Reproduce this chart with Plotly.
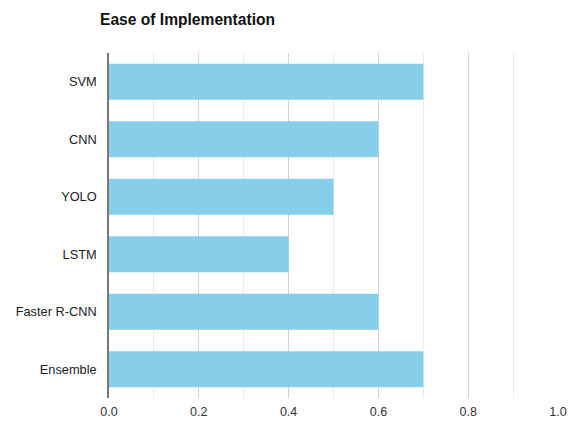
import plotly.graph_objects as go

# Ease-of-implementation scores per model
models = ["SVM", "CNN", "YOLO", "LSTM", "Faster R-CNN", "Ensemble"]
scores = [0.7, 0.6, 0.5, 0.4, 0.6, 0.7]
x_ticks = [0.0, 0.2, 0.4, 0.6, 0.8, 1.0]
x_tick_labels = ["0.0", "0.2", "0.4", "0.6", "0.8", "1.0"]

fig = go.Figure(
    go.Bar(
        x=scores,
        y=models,
        orientation="h",
        marker=dict(color="#87CEEB", line=dict(width=0)),
        width=0.63,
    )
)

fig.update_layout(
    width=571,
    height=421,
    margin=dict(l=109, r=13, t=53, b=23, autoexpand=False),
    paper_bgcolor="white",
    plot_bgcolor="white",
    font=dict(family="Liberation Sans, Arial, sans-serif", size=12, color="#222"),
    title=dict(
        text="<b>Ease of Implementation</b>",
        x=100 / 571,
        xanchor="left",
        y=1 - 20 / 421,
        yanchor="middle",
        font=dict(size=15.6, color="#111"),
    ),
    showlegend=False,
)

fig.update_xaxes(
    range=[0, 1.0],
    tickvals=x_ticks,
    ticktext=x_tick_labels,
    showgrid=True,
    gridcolor="#d4d4d4",
    gridwidth=1,
    minor=dict(dtick=0.1, showgrid=True, gridcolor="#ececec", gridwidth=1),
    zeroline=False,
    showline=False,
    ticks="",
    ticklabelstandoff=4,
    automargin=False,
    tickfont=dict(size=12.5, color="#333"),
    fixedrange=True,
)

fig.update_yaxes(
    categoryorder="array",
    categoryarray=models[::-1],
    showgrid=False,
    showline=True,
    linecolor="#777",
    linewidth=1.5,
    ticks="",
    ticklabelstandoff=8,
    automargin=False,
    tickfont=dict(size=12.8, color="#222"),
    fixedrange=True,
)

fig.write_html("out.html")
